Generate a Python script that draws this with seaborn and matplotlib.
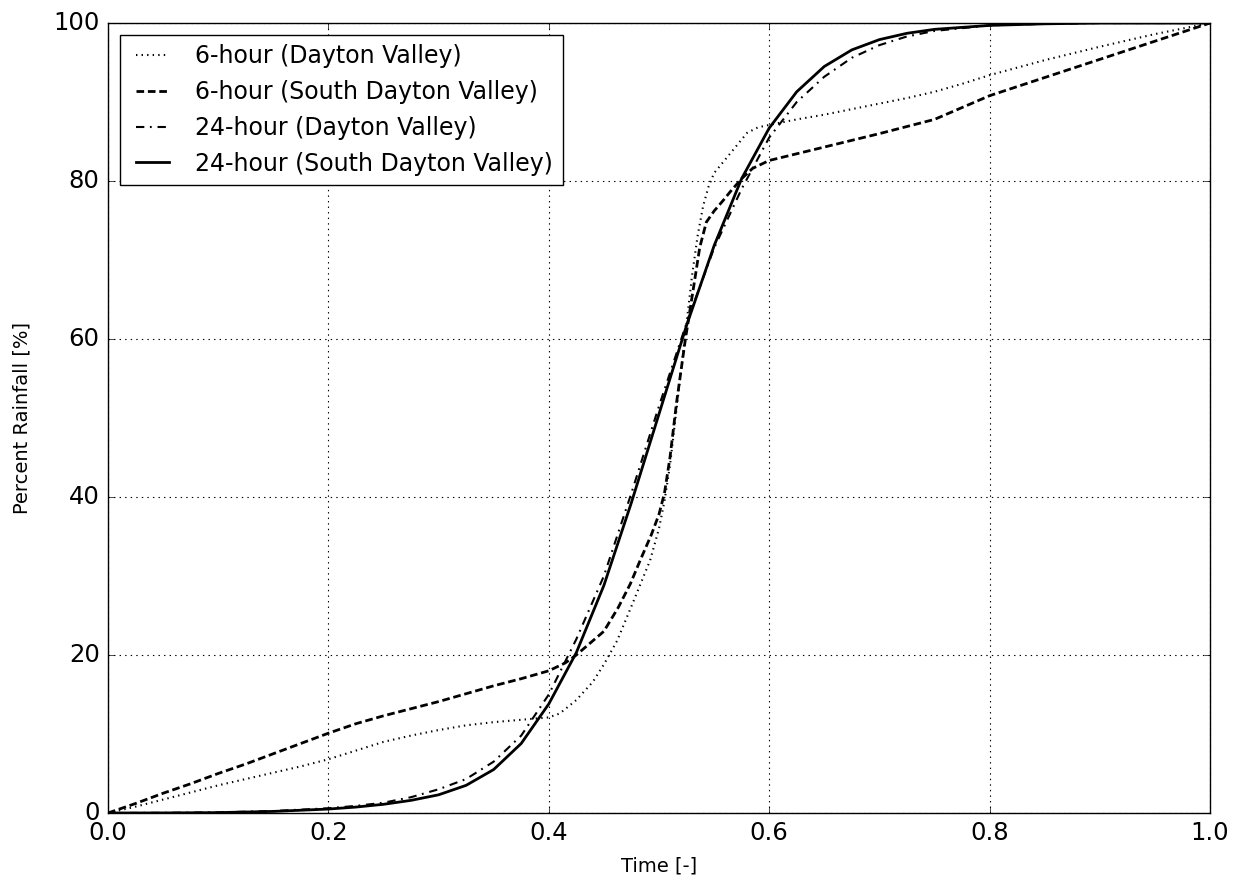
import pandas as pd
import matplotlib
matplotlib.use("Agg")
import matplotlib.pyplot as plt
import seaborn as sns

# 6-hour (Dayton Valley) - dotted
t_6h_dv = [0, 0.025, 0.05, 0.075, 0.1, 0.125, 0.15, 0.175, 0.2, 0.225, 0.25, 0.275, 0.3,
           0.325, 0.35, 0.375, 0.4, 0.41, 0.425, 0.44, 0.45, 0.462, 0.476, 0.492, 0.5,
           0.505, 0.51, 0.515, 0.52, 0.525, 0.53, 0.535, 0.54, 0.545, 0.55, 0.56, 0.57,
           0.58, 0.59, 0.6, 0.625, 0.65, 0.675, 0.7, 0.725, 0.75, 0.775, 0.8, 0.85, 0.9,
           0.95, 1.0]
p_6h_dv = [0, 0.8, 1.7, 2.6, 3.5, 4.3, 5.1, 5.9, 6.8, 7.9, 9.0, 9.8, 10.5,
           11.1, 11.5, 11.8, 12.1, 12.6, 14.3, 16.6, 18.8, 21.8, 26.5, 32.0, 36.0,
           39.5, 44.0, 50.0, 56.0, 62.0, 68.0, 73.0, 76.8, 79.3, 81.0, 82.7, 84.4,
           86.1, 86.8, 87.1, 87.8, 88.4, 89.1, 89.8, 90.5, 91.3, 92.3, 93.4, 95.3, 97.0,
           98.6, 100]

# 6-hour (South Dayton Valley) - dashed
t_6h_sdv = [0, 0.025, 0.05, 0.075, 0.1, 0.125, 0.15, 0.175, 0.2, 0.225, 0.25, 0.275, 0.3,
            0.325, 0.35, 0.375, 0.4, 0.415, 0.425, 0.44, 0.45, 0.463, 0.474, 0.483, 0.493,
            0.5, 0.505, 0.51, 0.516, 0.524, 0.531, 0.537, 0.543, 0.55, 0.558, 0.565, 0.575,
            0.585, 0.6, 0.65, 0.7, 0.75, 0.8, 0.85, 0.9, 0.95, 1.0]
p_6h_sdv = [0, 1.2, 2.5, 3.7, 5.0, 6.2, 7.5, 8.8, 10.1, 11.3, 12.3, 13.2, 14.1,
            15.1, 16.1, 17.0, 18.0, 19.0, 20.0, 21.8, 23.0, 26.0, 29.0, 32.0, 35.2,
            37.8, 40.5, 45.0, 52.0, 60.0, 66.2, 71.6, 74.8, 76.2, 77.5, 78.7, 80.3,
            81.6, 82.6, 84.3, 86.0, 87.8, 90.8, 93.1, 95.4, 97.7, 100]

# 24-hour (Dayton Valley) - dash-dot
t_24h_dv = [0, 0.05, 0.1, 0.15, 0.2, 0.225, 0.25, 0.275, 0.3, 0.325, 0.35, 0.375, 0.4,
            0.425, 0.45, 0.475, 0.5, 0.525, 0.55, 0.575, 0.6, 0.625, 0.65, 0.675, 0.7,
            0.725, 0.75, 0.8, 0.85, 0.9, 1.0]
p_24h_dv = [0, 0.02, 0.08, 0.25, 0.6, 0.9, 1.3, 2.0, 3.0, 4.3, 6.5, 9.8, 15.0,
            22.0, 30.0, 40.5, 51.5, 62.0, 71.5, 79.0, 85.5, 90.0, 93.2, 95.6, 97.2,
            98.3, 99.0, 99.7, 99.9, 100, 100]

# 24-hour (South Dayton Valley) - solid
t_24h_sdv = [0, 0.05, 0.1, 0.15, 0.2, 0.225, 0.25, 0.275, 0.3, 0.325, 0.35, 0.375, 0.4,
             0.425, 0.45, 0.475, 0.5, 0.525, 0.55, 0.575, 0.6, 0.625, 0.65, 0.675, 0.7,
             0.725, 0.75, 0.8, 0.85, 0.9, 1.0]
p_24h_sdv = [0, 0.01, 0.05, 0.2, 0.5, 0.75, 1.1, 1.6, 2.3, 3.5, 5.5, 8.8, 13.8,
             20.3, 28.8, 39.3, 50.5, 61.7, 71.8, 80.3, 86.7, 91.3, 94.5, 96.6, 97.9,
             98.7, 99.2, 99.7, 99.9, 100, 100]

plt.style.use('classic')
plt.rcParams['font.family'] = ['DejaVu Sans']

fig = plt.figure(figsize=(12.41, 8.86), dpi=100, facecolor='white')
ax = fig.add_axes([0.087, 0.0824, 0.888, 0.8916])

sns.lineplot(x=t_6h_dv, y=p_6h_dv, ax=ax, color='black', lw=1.5,
             label='6-hour (Dayton Valley)', estimator=None).lines[-1].set_dashes((1, 3))
sns.lineplot(x=t_6h_sdv, y=p_6h_sdv, ax=ax, color='black', lw=2,
             label='6-hour (South Dayton Valley)', estimator=None).lines[-1].set_dashes((5.5, 2.7))
sns.lineplot(x=t_24h_dv, y=p_24h_dv, ax=ax, color='black', lw=1.5,
             label='24-hour (Dayton Valley)', estimator=None).lines[-1].set_dashes((6, 4, 1.3, 4.2))
sns.lineplot(x=t_24h_sdv, y=p_24h_sdv, ax=ax, color='black', lw=2,
             label='24-hour (South Dayton Valley)', estimator=None)

ax.set_xlim(0, 1)
ax.set_ylim(0, 100)
ax.set_xticks([0.0, 0.2, 0.4, 0.6, 0.8, 1.0])
ax.set_yticks([0, 20, 40, 60, 80, 100])
ax.grid(True, color='black', linestyle=':', linewidth=0.8)
ax.tick_params(labelsize=17.5, pad=6)
ax.set_xlabel('Time [-]', fontsize=14, labelpad=8)
ax.set_ylabel('Percent Rainfall [%]', fontsize=14, labelpad=16)

ax.legend(loc='upper left', fontsize=17, frameon=True, fancybox=False)

fig.savefig('out.png', dpi=100, facecolor='white')
